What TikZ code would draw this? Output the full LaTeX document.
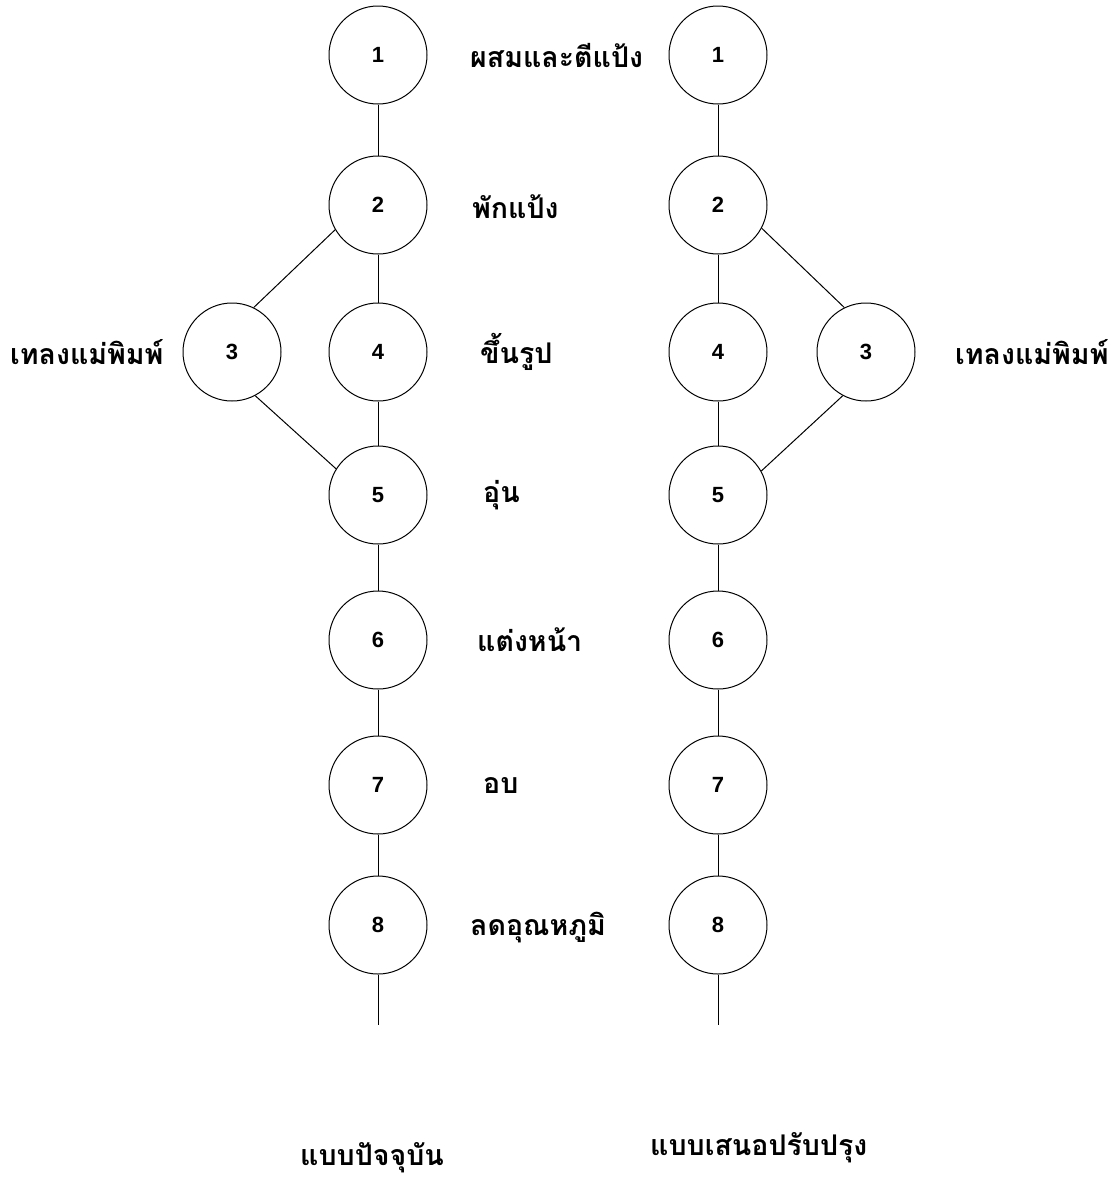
\documentclass[tikz,border=0pt]{standalone}
\usepackage{fontspec}
\newfontfamily\thaifont[Script=Thai]{Loma}
\setmainfont{Liberation Sans}
\begin{document}
\begin{tikzpicture}[x=1pt,y=-1pt,
  stepnode/.style={draw,circle,minimum size=98pt,inner sep=0pt,line width=1pt,font=\fontsize{22}{26}\selectfont\bfseries},
  lbl/.style={anchor=west,inner sep=0pt,font=\thaifont\fontsize{28.5}{33}\selectfont\bfseries},
  conn/.style={line width=1pt}]
\useasboundingbox (0,0) rectangle (1114,1179);
% left column
\node[stepnode] (L1) at (378,55) {1};
\node[stepnode] (L2) at (378,205) {2};
\node[stepnode] (L3) at (232,352) {3};
\node[stepnode] (L4) at (378,352) {4};
\node[stepnode] (L5) at (378,495) {5};
\node[stepnode] (L6) at (378,640) {6};
\node[stepnode] (L7) at (378,785) {7};
\node[stepnode] (L8) at (378,925) {8};
\coordinate (Lend) at (378,1025);
% right column
\node[stepnode] (R1) at (718,55) {1};
\node[stepnode] (R2) at (718,205) {2};
\node[stepnode] (R3) at (866,352) {3};
\node[stepnode] (R4) at (718,352) {4};
\node[stepnode] (R5) at (718,495) {5};
\node[stepnode] (R6) at (718,640) {6};
\node[stepnode] (R7) at (718,785) {7};
\node[stepnode] (R8) at (718,925) {8};
\coordinate (Rend) at (718,1025);
% connectors
\draw[conn] (L1) -- (L2);
\draw[conn] (L2) -- (L4);
\draw[conn] (L4) -- (L5);
\draw[conn] (L5) -- (L6);
\draw[conn] (L6) -- (L7);
\draw[conn] (L7) -- (L8);
\draw[conn] (L8) -- (Lend);
\draw[conn] (L2.210) -- (L3.64);
\draw[conn] (L3.298) -- (L5.148);
\draw[conn] (R1) -- (R2);
\draw[conn] (R2) -- (R4);
\draw[conn] (R4) -- (R5);
\draw[conn] (R5) -- (R6);
\draw[conn] (R6) -- (R7);
\draw[conn] (R7) -- (R8);
\draw[conn] (R8) -- (Rend);
\draw[conn] (R2.332) -- (R3.116);
\draw[conn] (R3.242) -- (R5.29);
% labels
\node[lbl] (t1) at (470,55) {ผสมและตีแป้ง};
\node[lbl] (t2) at (472,207) {พักแป้ง};
\node[lbl] (t3l) at (10,352) {เทลงแม่พิมพ์};
\node[lbl] (t4) at (480,352) {ขึ้นรูป};
\node[lbl] (t5) at (483,495) {อุ่น};
\node[lbl] (t6) at (477,640) {แต่งหน้า};
\node[lbl] (t7) at (483,785) {อบ};
\node[lbl] (t8) at (470,928) {ลดอุณหภูมิ};
\node[lbl] (t3r) at (955,352) {เทลงแม่พิมพ์};
\node[lbl] (c1) at (300,1158) {แบบปัจจุบัน};
\node[lbl] (c2) at (650,1148) {แบบเสนอปรับปรุง};
\end{tikzpicture}
\end{document}
